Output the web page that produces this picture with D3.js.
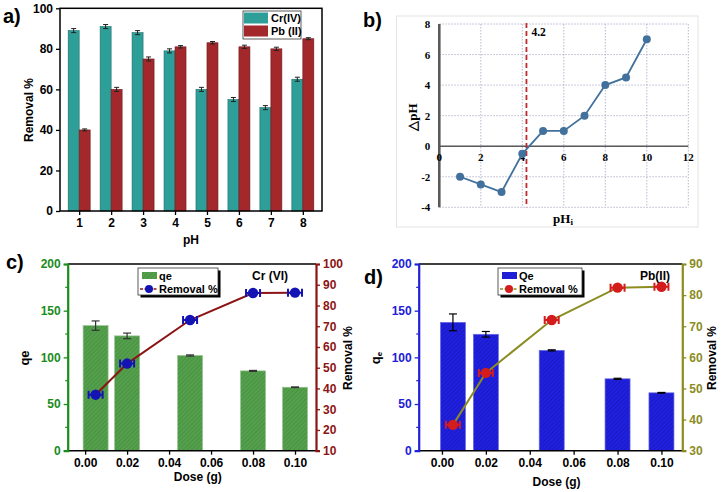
<!DOCTYPE html>
<html>
<head>
<meta charset="utf-8">
<script src="https://cdn.jsdelivr.net/npm/d3@7"></script>
<style>
  body { margin: 0; background: #fff; }
  text { font-family: "Liberation Sans", Arial, sans-serif; font-weight: bold; }
  .serif text, text.serif { font-family: "Liberation Serif", "Times New Roman", serif; }
</style>
</head>
<body>
<script>
// ---- panel a: removal % vs pH
var phCats = ['1', '2', '3', '4', '5', '6', '7', '8'];
var crRemoval = [89, 91, 88, 79, 60, 55, 51, 65];
var pbRemoval = [40, 60, 75, 81, 83, 81, 80, 85];
var crErr = [1, 1, 1, 1, 1, 1, 1, 1];
var pbErr = [0.5, 1, 1, 0.6, 0.6, 0.8, 0.8, 0.5];

// ---- panel b: pH drift
var phInit = [1, 2, 3, 4, 5, 6, 7, 8, 9, 10];
var deltaPh = [-2, -2.5, -3, -0.5, 1, 1, 2, 4, 4.5, 7];
var pzc = 4.2;

// ---- panel c: Cr(VI) dose
var doseC = [0.005, 0.02, 0.05, 0.08, 0.10];
var qeC = [134, 123, 102, 85.5, 68];
var qeErrC = [5, 3, 0.6, 0.5, 0.3];
var remC = [37, 52, 73, 86, 86.2];

// ---- panel d: Pb(II) dose
var doseD = [0.005, 0.02, 0.05, 0.08, 0.10];
var qeD = [137.5, 124.7, 107.5, 77, 62];
var qeErrD = [9, 3, 0.6, 0.6, 0.4];
var remD = [38.3, 55, 72, 82.4, 82.7];

var doseTicks = [0, 0.02, 0.04, 0.06, 0.08, 0.10];

var svg = d3.select('body').append('svg')
  .attr('width', 726).attr('height', 492);

var defs = svg.append('defs');
function hatch(id, base, line) {
  var p = defs.append('pattern').attr('id', id)
    .attr('patternUnits', 'userSpaceOnUse')
    .attr('width', 3).attr('height', 3)
    .attr('patternTransform', 'rotate(45)');
  p.append('rect').attr('width', 3).attr('height', 3).attr('fill', base);
  p.append('line').attr('x1', 0).attr('y1', 0).attr('x2', 0).attr('y2', 3)
    .attr('stroke', line).attr('stroke-width', 1);
}
hatch('hatchGreen', '#54a04c', '#3f8439');
hatch('hatchBlue', '#2020e0', '#1414a8');

// ================= a) =================
(function () {
  var g = svg.append('g');
  var x = d3.scalePoint().domain(phCats).range([60, 322]).padding(0.6);
  var y = d3.scaleLinear().domain([0, 100]).range([211, 8.3]);
  var bw = 11;

  g.selectAll('.cr').data(phCats).enter().append('rect')
    .attr('x', d => x(d) - bw).attr('width', bw)
    .attr('y', (d, i) => y(crRemoval[i]))
    .attr('height', (d, i) => y(0) - y(crRemoval[i]))
    .attr('fill', '#2e9f98').attr('stroke', '#1d6e69').attr('stroke-width', 0.6);
  g.selectAll('.pb').data(phCats).enter().append('rect')
    .attr('x', d => x(d)).attr('width', bw)
    .attr('y', (d, i) => y(pbRemoval[i]))
    .attr('height', (d, i) => y(0) - y(pbRemoval[i]))
    .attr('fill', '#a2282c').attr('stroke', '#6e1a1c').attr('stroke-width', 0.6);

  function errs(vals, es, off) {
    phCats.forEach(function (c, i) {
      var cx = x(c) + off;
      var t = y(vals[i] + es[i]), b = y(vals[i] - es[i]);
      g.append('line').attr('x1', cx).attr('x2', cx).attr('y1', t).attr('y2', b)
        .attr('stroke', '#222').attr('stroke-width', 1);
      [t, b].forEach(function (yy) {
        g.append('line').attr('x1', cx - 2.5).attr('x2', cx + 2.5).attr('y1', yy).attr('y2', yy)
          .attr('stroke', '#222').attr('stroke-width', 1);
      });
    });
  }
  errs(crRemoval, crErr, -bw / 2);
  errs(pbRemoval, pbErr, bw / 2);

  g.append('rect').attr('x', 60).attr('y', 8.3).attr('width', 262).attr('height', 211 - 8.3)
    .attr('fill', 'none').attr('stroke', '#000').attr('stroke-width', 1.5);

  var ya = g.append('g').attr('transform', 'translate(60,0)')
    .call(d3.axisLeft(y).tickValues([0, 20, 40, 60, 80, 100]).tickSize(4).tickPadding(3));
  var xa = g.append('g').attr('transform', 'translate(0,211)')
    .call(d3.axisBottom(x).tickSize(4).tickPadding(3));
  [ya, xa].forEach(function (a) {
    a.select('.domain').remove();
    a.selectAll('line').attr('stroke-width', 1.3);
    a.selectAll('text').style('font-size', '12px').style('font-weight', 'bold')
      .style('font-family', '"Liberation Sans", Arial, sans-serif');
  });

  g.append('text').attr('transform', 'translate(33,110) rotate(-90)')
    .attr('text-anchor', 'middle').style('font-size', '12px').text('Removal %');
  g.append('text').attr('x', 191).attr('y', 244).attr('text-anchor', 'middle')
    .style('font-size', '12px').text('pH');
  g.append('text').attr('x', 3).attr('y', 23).style('font-size', '20px').text('a)');

  // legend
  g.append('rect').attr('x', 243).attr('y', 11).attr('width', 58).attr('height', 28)
    .attr('fill', '#fff').attr('stroke', '#333').attr('stroke-width', 0.8);
  g.append('rect').attr('x', 244).attr('y', 12.5).attr('width', 24).attr('height', 11)
    .attr('fill', '#2e9f98');
  g.append('rect').attr('x', 244).attr('y', 25.5).attr('width', 24).attr('height', 11)
    .attr('fill', '#a2282c');
  g.append('text').attr('x', 271).attr('y', 22).style('font-size', '11px').text('Cr(IV)');
  g.append('text').attr('x', 271).attr('y', 35).style('font-size', '11px').text('Pb (II)');
})();

// ================= b) =================
(function () {
  var g = svg.append('g').attr('class', 'serif');
  var x = d3.scaleLinear().domain([0, 12]).range([439.3, 688.3]);
  var y = d3.scaleLinear().domain([-4, 8]).range([207.3, 24]);

  g.append('rect').attr('x', 396.5).attr('y', 16).attr('width', 301.5).attr('height', 211)
    .attr('fill', '#fff').attr('stroke', '#e4e4e4').attr('stroke-width', 1);

  var gx = d3.range(2, 13, 2), gy = d3.range(-4, 9, 2);
  g.selectAll('.vg').data(gx).enter().append('line')
    .attr('x1', d => x(d)).attr('x2', d => x(d)).attr('y1', y(8)).attr('y2', y(-4))
    .attr('stroke', '#a4a8c4').attr('stroke-width', 0.8).attr('stroke-dasharray', '1.5,1.5');
  g.selectAll('.hg').data(gy).enter().append('line')
    .attr('x1', x(0)).attr('x2', x(12)).attr('y1', d => y(d)).attr('y2', d => y(d))
    .attr('stroke', '#a4a8c4').attr('stroke-width', 0.8).attr('stroke-dasharray', '1.5,1.5');

  g.append('line').attr('x1', x(0)).attr('x2', x(12)).attr('y1', y(0)).attr('y2', y(0))
    .attr('stroke', '#5a5a5a').attr('stroke-width', 1.6);
  g.append('line').attr('x1', x(0)).attr('x2', x(0)).attr('y1', y(8)).attr('y2', y(-4))
    .attr('stroke', '#5a5a5a').attr('stroke-width', 2.6);

  g.selectAll('.xt').data(d3.range(0, 13, 2)).enter().append('text')
    .attr('x', d => x(d)).attr('y', y(0) + 15).attr('text-anchor', 'middle')
    .style('font-size', '11px').text(d => d);
  g.selectAll('.yt').data(gy).enter().append('text')
    .attr('x', x(0) - 9).attr('y', d => y(d) + 4).attr('text-anchor', 'end')
    .style('font-size', '11px').text(d => d);

  g.append('line').attr('x1', x(pzc)).attr('x2', x(pzc)).attr('y1', y(8) - 1).attr('y2', y(-4))
    .attr('stroke', '#c0282d').attr('stroke-width', 1.8).attr('stroke-dasharray', '5,3');
  g.append('text').attr('x', x(pzc) + 5).attr('y', 36).style('font-size', '11.5px').text(pzc);

  var line = d3.line().x((d, i) => x(phInit[i])).y(d => y(d));
  g.append('path').datum(deltaPh).attr('d', line)
    .attr('fill', 'none').attr('stroke', '#41719c').attr('stroke-width', 1.8);
  g.selectAll('.pt').data(deltaPh).enter().append('circle')
    .attr('cx', (d, i) => x(phInit[i])).attr('cy', d => y(d)).attr('r', 4)
    .attr('fill', '#41719c');

  g.append('text').attr('transform', 'translate(417,117) rotate(-90)')
    .attr('text-anchor', 'middle').style('font-size', '13px').text('\u25B3pH');
  var t = g.append('text').attr('x', 563).attr('y', 223).attr('text-anchor', 'middle')
    .style('font-size', '13px');
  t.append('tspan').text('pH');
  t.append('tspan').style('font-size', '9px').attr('dy', 2).text('i');

  svg.append('text').attr('x', 363).attr('y', 27).style('font-size', '20px').text('b)');
})();

// ================= c) & d) =================
function dosePanel(o) {
  var g = svg.append('g');
  var x = d3.scaleLinear().domain(o.xDom).range([o.left, o.right]);
  var yL = d3.scaleLinear().domain([0, 200]).range([450.7, 264]);
  var yR = d3.scaleLinear().domain(o.rDom).range([450.7, 264]);
  var bw = 25;

  g.selectAll('.bar').data(o.qe).enter().append('rect')
    .attr('x', (d, i) => x(o.dose[i]) - bw / 2).attr('width', bw)
    .attr('y', d => yL(d)).attr('height', d => yL(0) - yL(d))
    .attr('fill', 'url(#' + o.pattern + ')').attr('stroke', o.barStroke).attr('stroke-width', 0.7);

  o.qe.forEach(function (v, i) {
    var cx = x(o.dose[i]);
    var t = yL(v + o.qeErr[i]), b = yL(v - o.qeErr[i]);
    g.append('line').attr('x1', cx).attr('x2', cx).attr('y1', t).attr('y2', b)
      .attr('stroke', o.errColor).attr('stroke-width', 1.2);
    [t, b].forEach(function (yy) {
      g.append('line').attr('x1', cx - 4).attr('x2', cx + 4).attr('y1', yy).attr('y2', yy)
        .attr('stroke', o.errColor).attr('stroke-width', 1.2);
    });
  });

  // frame
  g.append('line').attr('x1', o.left).attr('x2', o.right).attr('y1', 264).attr('y2', 264)
    .attr('stroke', '#000').attr('stroke-width', 1.5);
  g.append('line').attr('x1', o.left).attr('x2', o.right).attr('y1', 450.7).attr('y2', 450.7)
    .attr('stroke', '#000').attr('stroke-width', 1.5);

  var line = d3.line().x((d, i) => x(o.dose[i])).y(d => yR(d));
  g.append('path').datum(o.rem).attr('d', line)
    .attr('fill', 'none').attr('stroke', o.lineColor).attr('stroke-width', 2);
  g.selectAll('.mk').data(o.rem).enter().append('g')
    .attr('transform', (d, i) => 'translate(' + x(o.dose[i]) + ',' + yR(d) + ')')
    .each(function () {
      var m = d3.select(this);
      m.append('path').attr('d', 'M-7,-4V4M7,-4V4M-7,0H7')
        .attr('stroke', o.markColor).attr('stroke-width', 2).attr('fill', 'none');
      m.append('circle').attr('r', 5.2).attr('fill', o.markColor).attr('stroke', 'none');
    });

  var yl = g.append('g').attr('transform', 'translate(' + o.left + ',0)')
    .call(d3.axisLeft(yL).tickValues([0, 50, 100, 150, 200]).tickSize(4).tickPadding(3));
  var yr = g.append('g').attr('transform', 'translate(' + o.right + ',0)')
    .call(d3.axisRight(yR).tickValues(d3.range(o.rDom[0], o.rDom[1] + 1, 10)).tickSize(4).tickPadding(3));
  var xa = g.append('g').attr('transform', 'translate(0,450.7)')
    .call(d3.axisBottom(x).tickValues(doseTicks).tickFormat(d3.format('.2f')).tickSize(4).tickPadding(4));
  [[yl, o.leftColor], [yr, o.lineColor], [xa, '#000']].forEach(function (p) {
    var a = p[0];
    a.select('.domain').attr('stroke', p[1]).attr('stroke-width', p[1] === '#000' ? 1.5 : 2.2);
    a.selectAll('line').attr('stroke', p[1]).attr('stroke-width', 1.3);
    a.selectAll('text').attr('fill', p[1]).style('font-size', '12px').style('font-weight', 'bold')
      .style('font-family', '"Liberation Sans", Arial, sans-serif');
  });
  xa.select('.domain').remove();
  // minor ticks on the left axis
  g.selectAll('.mn').data([25, 75, 125, 175]).enter().append('line')
    .attr('x1', o.left - 2.5).attr('x2', o.left).attr('y1', d => yL(d)).attr('y2', d => yL(d))
    .attr('stroke', o.leftColor).attr('stroke-width', 1.2);

  var ql = g.append('text').attr('transform', 'translate(' + o.qLabelX + ',358) rotate(-90)')
    .attr('text-anchor', 'middle').style('font-size', '13px');
  ql.append('tspan').text('q');
  ql.append('tspan').style('font-size', o.qSub ? '8px' : '13px').attr('dy', o.qSub ? 2 : 0).text('e');
  g.append('text').attr('transform', 'translate(' + o.rLabelX + ',358) rotate(-90)')
    .attr('text-anchor', 'middle').style('font-size', '12px').text('Removal %');
  g.append('text').attr('x', (o.left + o.right) / 2 + 6).attr('y', o.doseY).attr('text-anchor', 'middle')
    .style('font-size', '12px').text('Dose (g)');
  g.append('text').attr('x', o.tagX).attr('y', o.tagY).style('font-size', '20px').text(o.tag);
  g.append('text').attr('x', o.metalX).attr('y', 280).style('font-size', '12px').text(o.metal);

  // legend with drop shadow
  var L = o.legend;
  g.append('rect').attr('x', L[0] + 2.5).attr('y', 268 + 2.5).attr('width', L[1] - L[0]).attr('height', 27)
    .attr('fill', '#000');
  g.append('rect').attr('x', L[0]).attr('y', 268).attr('width', L[1] - L[0]).attr('height', 27)
    .attr('fill', '#fff').attr('stroke', '#333').attr('stroke-width', 0.8);
  g.append('rect').attr('x', L[0] + 4).attr('y', 272).attr('width', 15).attr('height', 7)
    .attr('fill', 'url(#' + o.pattern + ')');
  g.append('text').attr('x', L[0] + 21).attr('y', 280).style('font-size', '11px').text(o.barName);
  g.append('line').attr('x1', L[0] + 2).attr('x2', L[0] + 19).attr('y1', 289).attr('y2', 289)
    .attr('stroke', o.lineColor).attr('stroke-width', 1.5).attr('stroke-dasharray', '3,1.5');
  g.append('circle').attr('cx', L[0] + 11).attr('cy', 289).attr('r', 4).attr('fill', o.markColor);
  g.append('text').attr('x', L[0] + 21).attr('y', 293).style('font-size', '11px').text('Removal %');
}

dosePanel({
  xDom: [-0.0083, 0.11], left: 67.7, right: 316,
  rDom: [10, 100], dose: doseC, qe: qeC, qeErr: qeErrC, rem: remC,
  pattern: 'hatchGreen', barStroke: '#9ac496', errColor: '#333',
  leftColor: '#1a8c1a', lineColor: '#8b1414', markColor: '#1414b4',
  qLabelX: 29, qSub: false, rLabelX: 352, doseY: 481,
  tag: 'c)', tagX: 6, tagY: 269, metal: 'Cr (VI)', metalX: 252,
  legend: [138, 218], barName: 'qe'
});
dosePanel({
  xDom: [-0.0106, 0.1095], left: 418.7, right: 682.3,
  rDom: [30, 90], dose: doseD, qe: qeD, qeErr: qeErrD, rem: remD,
  pattern: 'hatchBlue', barStroke: '#6a6ae8', errColor: '#000',
  leftColor: '#2020d8', lineColor: '#8c8c22', markColor: '#d41c1c',
  qLabelX: 380, qSub: true, rLabelX: 716, doseY: 486,
  tag: 'd)', tagX: 364, tagY: 284, metal: 'Pb(II)', metalX: 640,
  legend: [498, 582], barName: 'Qe'
});
</script>
</body>
</html>
